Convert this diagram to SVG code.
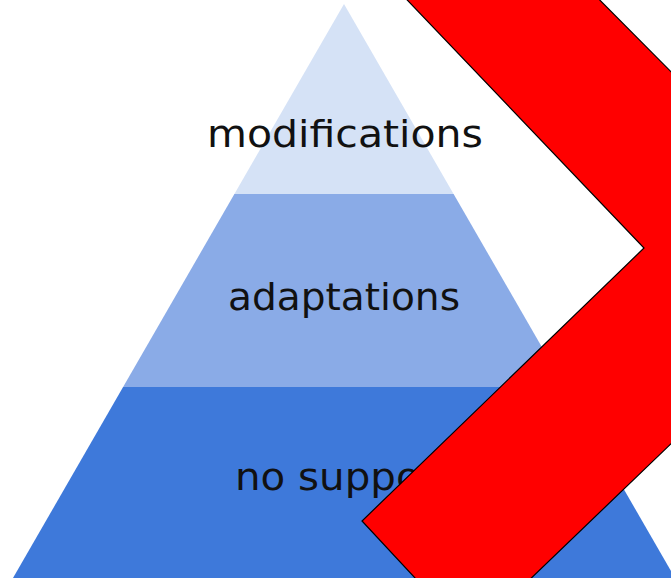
<svg xmlns="http://www.w3.org/2000/svg" width="671" height="578" viewBox="0 0 671 578">
<style>
.lbl{font-family:"DejaVu Sans","Liberation Sans",sans-serif;font-size:38px;fill:#111;text-anchor:middle}
</style>
<rect width="671" height="578" fill="#ffffff"/>
<g id="tier-modifications">
<polygon points="344,4 453.6,194 234.4,194" fill="#d5e2f6"/>
<text class="lbl" x="345" y="147" textLength="276" lengthAdjust="spacingAndGlyphs">modifications</text>
</g>
<g id="tier-adaptations">
<polygon points="234.4,194 453.6,194 564.9,387 123.1,387" fill="#8aabe7"/>
<text class="lbl" x="344" y="310" textLength="232" lengthAdjust="spacingAndGlyphs">adaptations</text>
</g>
<g id="tier-no-support">
<polygon points="123.1,387 564.9,387 675,578 13,578" fill="#3e79da"/>
<text class="lbl" x="344" y="490" textLength="218" lengthAdjust="spacingAndGlyphs">no support</text>
</g>
<g id="chevron">
<polygon points="369,-40 560,-40 860,262 470,637 362,521 644,248" fill="#ff0000" stroke="#000" stroke-width="1.2"/>
</g>
</svg>
